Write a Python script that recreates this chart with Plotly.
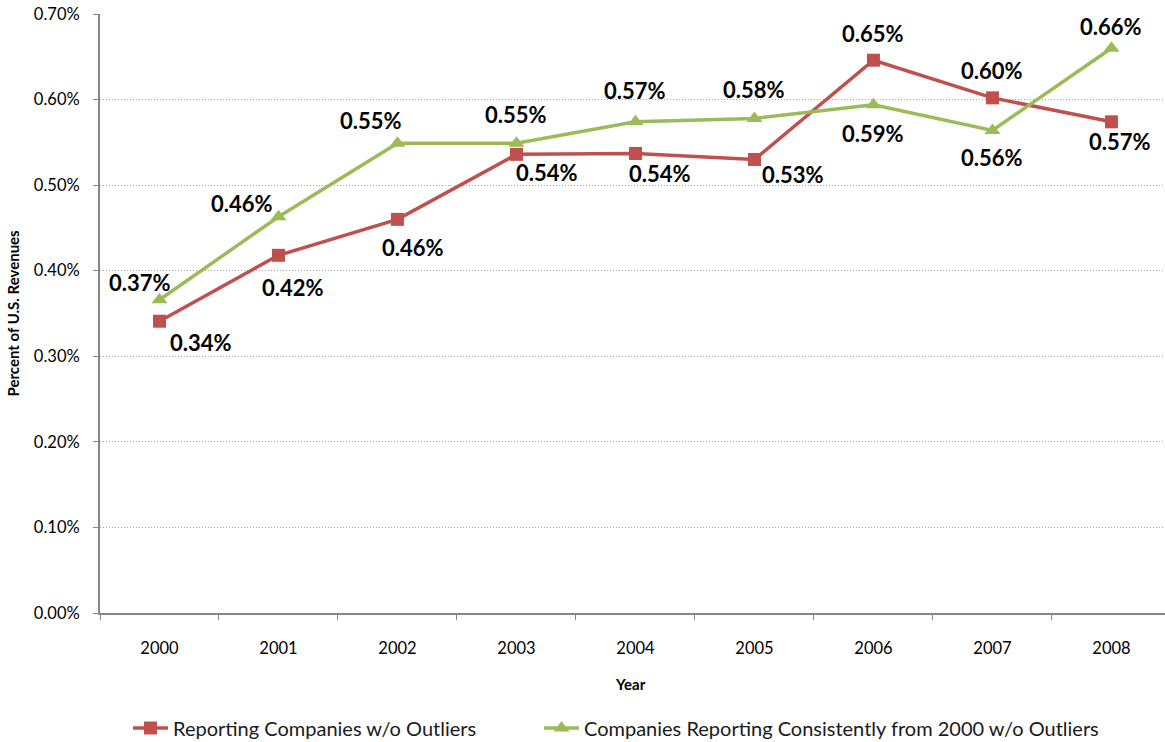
import plotly.graph_objects as go

# Years on the category axis
years = ["2000", "2001", "2002", "2003", "2004", "2005", "2006", "2007", "2008"]

# Share of U.S. revenues (fractions)
reporting_wo_outliers = [0.00341, 0.00418, 0.00460, 0.00536, 0.00537, 0.00530, 0.00646, 0.00602, 0.00574]
consistent_wo_outliers = [0.00366, 0.00463, 0.00549, 0.00549, 0.00574, 0.00578, 0.00594, 0.00564, 0.00660]

series_names = [
    "Reporting Companies w/o Outliers",
    "Companies Reporting Consistently from 2000 w/o Outliers",
]

RED = "#C0504D"
GREEN = "#9BBB59"
AXIS = "#868686"
FONT = "Lato"

# Label offsets (pixels) relative to each point
red_offsets = [(41, -21), (15, -32), (16, -28), (31, -18), (25, -20), (39, -15), (0, 27), (0, 27), (9, -20)]
green_offsets = [(-20, 17), (-36, 13), (-26, 23), (0, 29), (0, 31), (0, 29), (0, -29), (0, -27), (0, 22)]

fig = go.Figure()
fig.add_trace(go.Scatter(
    x=years, y=reporting_wo_outliers, name=series_names[0], mode="lines+markers",
    line=dict(color=RED, width=3.5),
    marker=dict(symbol="square", size=13, color=RED),
    legend="legend",
))
fig.add_trace(go.Scatter(
    x=years, y=consistent_wo_outliers, name=series_names[1], mode="lines+markers",
    line=dict(color=GREEN, width=3.5),
    marker=dict(symbol="triangle-up", size=14, color=GREEN),
    legend="legend2",
))

annotations = []
for vals, offs in ((reporting_wo_outliers, red_offsets), (consistent_wo_outliers, green_offsets)):
    for i, (v, (dx, dy)) in enumerate(zip(vals, offs)):
        annotations.append(dict(
            x=i, y=v, xref="x", yref="y", text=f"<b>{v:.2%}</b>", showarrow=False,
            xshift=dx, yshift=dy, font=dict(family=FONT, size=22, color="#000000"),
        ))

# Axis titles
annotations.append(dict(
    x=0, y=0.5, xref="paper", yref="paper", xshift=-99, textangle=-90,
    text="<b>Percent of U.S. Revenues</b>", showarrow=False,
    font=dict(family=FONT, size=15, color="#000000"),
))
annotations.append(dict(
    x=0.4977, y=-0.1185, xref="paper", yref="paper", yanchor="middle",
    text="<b>Year</b>", showarrow=False,
    font=dict(family=FONT, size=15, color="#000000"),
))

legend_style = dict(
    orientation="h", xanchor="left", y=-0.192, yanchor="middle",
    xref="paper", yref="paper",
    font=dict(family=FONT, size=20, color="#1a1a1a"),
    itemwidth=35, bgcolor="rgba(0,0,0,0)",
)

fig.update_layout(
    width=1165, height=742,
    margin=dict(l=100, r=0, t=14, b=129, autoexpand=False),
    paper_bgcolor="white", plot_bgcolor="white",
    font=dict(family=FONT, color="#000000"),
    showlegend=True,
    legend=dict(x=0.0263, **legend_style),
    legend2=dict(x=0.4122, **legend_style),
    annotations=annotations,
)

fig.update_xaxes(
    type="category", range=[-0.5, 8.45],
    showline=True, linecolor=AXIS, linewidth=2,
    ticks="outside", tickson="boundaries", ticklen=5, tickcolor=AXIS, tickwidth=1,
    tickfont=dict(family=FONT, size=16.5, color="#000000"),
    ticklabelstandoff=19,
    showgrid=False, zeroline=False,
)
fig.update_yaxes(
    range=[0, 0.007], dtick=0.001, tickformat=".2%",
    showline=True, linecolor=AXIS, linewidth=2,
    ticks="outside", ticklen=5, tickcolor=AXIS, tickwidth=1,
    tickfont=dict(family=FONT, size=16.5, color="#000000"),
    ticklabelstandoff=10,
    showgrid=True, gridcolor="#A6A6A6", gridwidth=1, griddash="1px,2px",
    zeroline=False,
)

fig.write_html("out.html")
